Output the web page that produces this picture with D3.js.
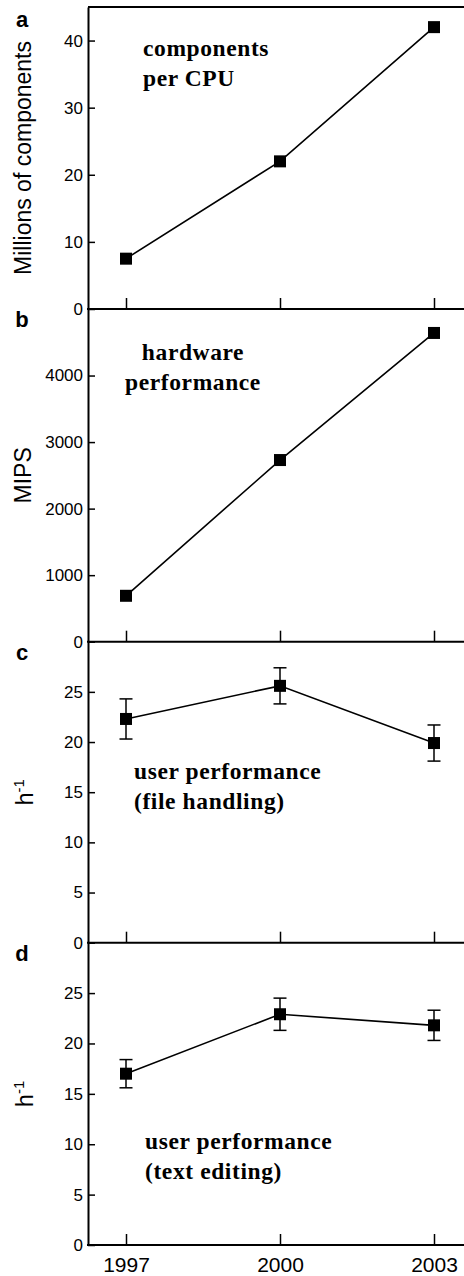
<!DOCTYPE html>
<html>
<head>
<meta charset="utf-8">
<script src="https://cdn.jsdelivr.net/npm/d3@7"></script>
<style>
  body { margin: 0; background: #fff; }
  svg { display: block; }
  .tick text { font-family: "Liberation Sans", Arial, sans-serif; fill: #000; }
  .note { font-family: "Liberation Serif", "Times New Roman", serif; font-weight: bold; font-size: 23.5px; letter-spacing: 0.6px; }
  .ytitle { font-family: "Liberation Sans", Arial, sans-serif; font-size: 23px; }
  .plabel { font-family: "Liberation Sans", Arial, sans-serif; font-weight: bold; font-size: 22px; }
</style>
</head>
<body>
<div id="chart"></div>
<script>
// data
var years = [1997, 2000, 2003];

var components = [7.5, 22, 42];          // millions of components per CPU
var mips = [690, 2730, 4640];            // hardware performance
var fileHandling = [22.3, 25.6, 19.9];   // h^-1
var fileHandlingErr = [2.0, 1.8, 1.8];
var textEditing = [17.0, 22.9, 21.8];    // h^-1
var textEditingErr = [1.4, 1.6, 1.5];

var compTicks = [0, 10, 20, 30, 40];
var mipsTicks = [0, 1000, 2000, 3000, 4000];
var userTicks = [0, 5, 10, 15, 20, 25];

var svgWidth = 464;
var svgHeight = 1276;

var svg = d3.select("#chart")
  .append("svg")
  .attr("width", svgWidth)
  .attr("height", svgHeight);

var left = 88;

// x scale shared by all panels
var x = d3.scaleLinear()
  .domain([1997, 2003])
  .range([126, 434]);

// one entry per panel (layout only)
var panels = [
  { label: "a", top: 7, bottom: 309, max: 45, values: components, err: null, ticks: compTicks,
    title: "Millions of components", note: ["components", "per CPU"], noteX: 143, noteY: 56, anchor: "start" },
  { label: "b", top: 309, bottom: 641.7, max: 5000, values: mips, err: null, ticks: mipsTicks,
    title: "MIPS", note: ["hardware", "performance"], noteX: 193, noteY: 360, anchor: "middle" },
  { label: "c", top: 641.7, bottom: 942.7, max: 30, values: fileHandling, err: fileHandlingErr, ticks: userTicks,
    title: "h", note: ["user performance", "(file handling)"], noteX: 134, noteY: 779, anchor: "start" },
  { label: "d", top: 942.7, bottom: 1245, max: 30, values: textEditing, err: textEditingErr, ticks: userTicks,
    title: "h", note: ["user performance", "(text editing)"], noteX: 145, noteY: 1149, anchor: "start" }
];

// top frame line of panel a
svg.append("line")
  .attr("x1", left).attr("x2", svgWidth)
  .attr("y1", panels[0].top).attr("y2", panels[0].top)
  .attr("stroke", "#000").attr("stroke-width", 2);

panels.forEach(function(p, i) {

  var y = d3.scaleLinear()
    .domain([0, p.max])
    .range([p.bottom, p.top]);

  var g = svg.append("g");

  // y axis, ticks pointing inward
  var yAxis = g.append("g")
    .attr("transform", `translate(${left},0)`)
    .call(d3.axisLeft(y).tickValues(p.ticks).tickFormat(d3.format("d"))
      .tickSizeInner(-7).tickSizeOuter(0).tickPadding(5));
  yAxis.select(".domain").attr("stroke-width", 2);
  yAxis.selectAll(".tick line").attr("stroke-width", 1.5);
  yAxis.selectAll(".tick text").style("font-size", "17px");

  // x axis, ticks pointing up
  var last = (i === panels.length - 1);
  var xAxis = g.append("g")
    .attr("transform", `translate(0,${p.bottom})`)
    .call(d3.axisBottom(x).tickValues(years).tickFormat(last ? d3.format("d") : "")
      .tickSizeInner(-11).tickSizeOuter(0).tickPadding(12));
  xAxis.select(".domain").remove();
  xAxis.selectAll(".tick line").attr("stroke-width", 1.5);
  xAxis.selectAll(".tick text").style("font-size", "21px");

  g.append("line")
    .attr("x1", left - 1).attr("x2", svgWidth)
    .attr("y1", p.bottom).attr("y2", p.bottom)
    .attr("stroke", "#000").attr("stroke-width", 2);

  // error bars
  if (p.err) {
    var eb = g.selectAll(".err")
      .data(p.values)
      .enter()
      .append("g");
    eb.append("line")
      .attr("x1", (d, j) => x(years[j])).attr("x2", (d, j) => x(years[j]))
      .attr("y1", (d, j) => y(d + p.err[j])).attr("y2", (d, j) => y(d - p.err[j]))
      .attr("stroke", "#000").attr("stroke-width", 1.5);
    [1, -1].forEach(function(s) {
      eb.append("line")
        .attr("x1", (d, j) => x(years[j]) - 6.5).attr("x2", (d, j) => x(years[j]) + 6.5)
        .attr("y1", (d, j) => y(d + s * p.err[j])).attr("y2", (d, j) => y(d + s * p.err[j]))
        .attr("stroke", "#000").attr("stroke-width", 1.5);
    });
  }

  // connecting line
  var line = d3.line()
    .x((d, j) => x(years[j]))
    .y(d => y(d));

  g.append("path")
    .datum(p.values)
    .attr("d", line)
    .attr("fill", "none")
    .attr("stroke", "#000")
    .attr("stroke-width", 1.6);

  // square markers
  g.selectAll(".pt")
    .data(p.values)
    .enter()
    .append("rect")
    .attr("x", (d, j) => x(years[j]) - 6)
    .attr("y", d => y(d) - 6)
    .attr("width", 12)
    .attr("height", 12)
    .attr("fill", "#000");

  // panel letter
  g.append("text")
    .attr("class", "plabel")
    .attr("x", 22)
    .attr("y", i === 0 ? 27 : p.top + 18)
    .attr("text-anchor", "middle")
    .text(p.label);

  // y axis title
  var title = g.append("text")
    .attr("class", "ytitle")
    .attr("transform", `translate(${i < 2 ? 31 : 33},${(p.top + p.bottom) / 2}) rotate(-90)`)
    .attr("text-anchor", "middle");
  title.append("tspan").text(p.title);
  if (p.title === "h") {
    title.append("tspan")
      .attr("dy", -9)
      .style("font-size", "15px")
      .text("-1");
  }

  // annotation
  var note = g.append("text")
    .attr("class", "note")
    .attr("text-anchor", p.anchor);
  p.note.forEach(function(t, k) {
    note.append("tspan")
      .attr("x", p.noteX)
      .attr("y", p.noteY + k * 29.5)
      .text(t);
  });
});
</script>
</body>
</html>
